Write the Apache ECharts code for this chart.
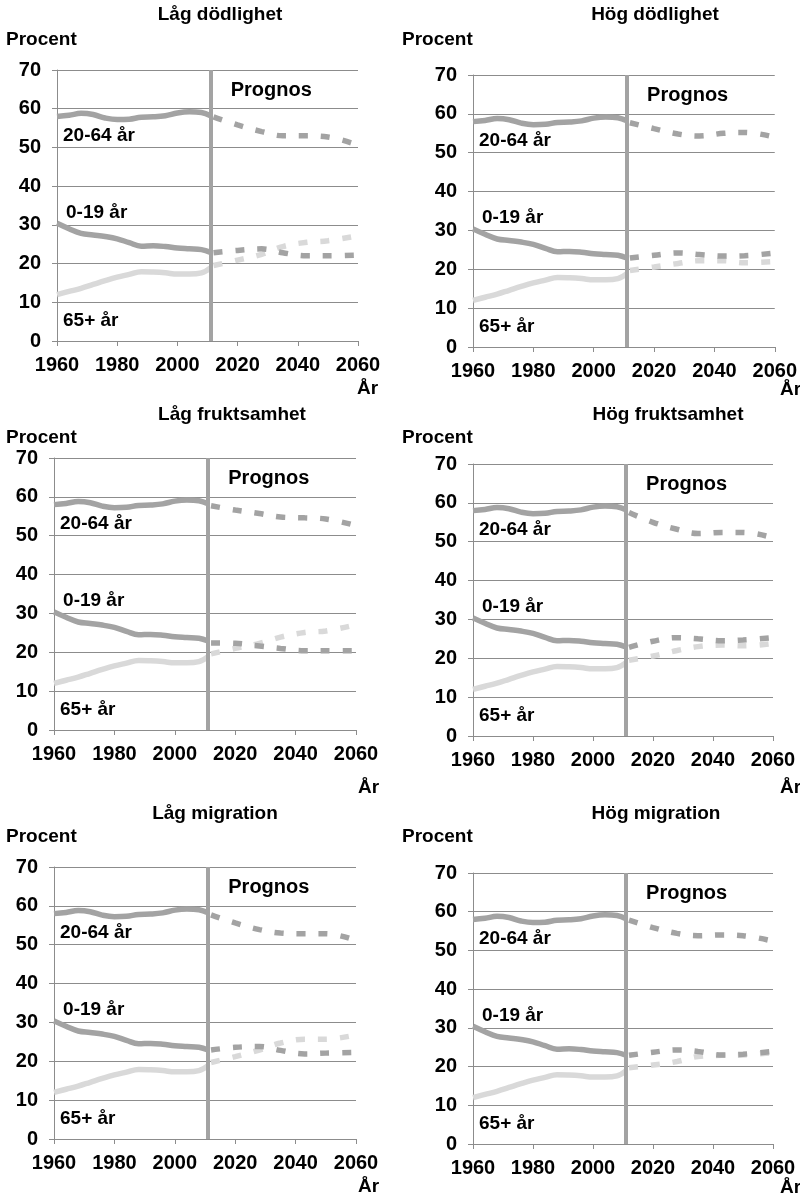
<!DOCTYPE html>
<html>
<head>
<meta charset="utf-8">
<script src="https://cdn.jsdelivr.net/npm/echarts@6/dist/echarts.min.js"></script>
<style>
  html, body { margin: 0; padding: 0; background: #fff; }
  #chart { width: 800px; height: 1200px; }
</style>
</head>
<body>
<div id="chart"></div>
<script>
// historical part, same in all six panels
const histYears = [1960, 1964, 1968, 1972, 1976, 1980, 1984, 1988, 1992, 1996, 2000, 2004, 2008, 2011];
const hist2064 = [58.0, 58.3, 58.8, 58.5, 57.6, 57.2, 57.3, 57.8, 57.9, 58.2, 58.9, 59.2, 59.0, 58.2];
const hist019 = [30.4, 29.0, 27.8, 27.4, 27.0, 26.4, 25.4, 24.5, 24.6, 24.4, 24.0, 23.8, 23.6, 22.9];
const hist65 = [12.0, 12.8, 13.6, 14.6, 15.6, 16.5, 17.2, 17.9, 17.8, 17.6, 17.3, 17.3, 17.6, 18.9];

// prognos
const fcYears = [2012, 2020, 2028, 2035, 2043, 2050, 2060];

const lagDod2064 = [57.9, 55.8, 54.1, 53.0, 53.0, 52.7, 50.6];
const lagDod019 = [22.8, 23.4, 23.8, 22.8, 22.0, 22.0, 22.2];
const lagDod65 = [19.5, 20.9, 22.4, 24.4, 25.5, 25.9, 27.2];

const hogDod2064 = [57.7, 56.2, 54.8, 54.3, 55.0, 55.2, 54.0];
const hogDod019 = [22.9, 23.6, 24.2, 23.8, 23.4, 23.5, 24.2];
const hogDod65 = [19.7, 20.6, 21.5, 22.2, 22.2, 21.7, 22.0];

const lagFrukt2064 = [57.7, 56.6, 55.7, 54.8, 54.6, 54.3, 52.6];
const lagFrukt019 = [22.4, 22.3, 21.6, 21.0, 20.4, 20.4, 20.4];
const lagFrukt65 = [19.6, 21.0, 22.3, 23.9, 25.1, 25.5, 27.1];

const hogFrukt2064 = [57.5, 55.0, 53.2, 52.1, 52.4, 52.4, 51.0];
const hogFrukt019 = [22.8, 24.4, 25.3, 25.0, 24.5, 24.7, 25.3];
const hogFrukt65 = [19.5, 20.6, 22.0, 23.0, 23.4, 23.2, 23.8];

const lagMig2064 = [57.7, 55.6, 53.9, 53.0, 52.8, 52.8, 51.1];
const lagMig019 = [22.9, 23.6, 23.8, 22.8, 21.9, 22.1, 22.3];
const lagMig65 = [19.7, 21.2, 22.9, 24.7, 25.7, 25.7, 26.8];

const hogMig2064 = [57.8, 55.9, 54.4, 53.8, 54.0, 53.8, 52.4];
const hogMig019 = [22.9, 23.7, 24.3, 23.9, 23.0, 23.2, 23.9];
const hogMig65 = [19.7, 20.4, 21.3, 22.6, 22.9, 23.0, 23.6];

const titles = ['Låg dödlighet', 'Hög dödlighet', 'Låg fruktsamhet', 'Hög fruktsamhet', 'Låg migration', 'Hög migration'];
const forecasts = [
  [lagDod2064, lagDod019, lagDod65],
  [hogDod2064, hogDod019, hogDod65],
  [lagFrukt2064, lagFrukt019, lagFrukt65],
  [hogFrukt2064, hogFrukt019, hogFrukt65],
  [lagMig2064, lagMig019, lagMig65],
  [hogMig2064, hogMig019, hogMig65]
];
const xTicks = [1960, 2060, 20];
const yTicks = [0, 70, 10];
const prognosYear = 2011;

// pixel layout of each panel
const layouts = [
  {left: 57, top: 70, width: 301, height: 271, tx: 220, ty: 15, px: 6, py: 40, ax: 357, ay: 389},
  {left: 473, top: 75, width: 303, height: 272, tx: 655, ty: 15, px: 402, py: 40, ax: 780, ay: 390},
  {left: 54, top: 458, width: 302, height: 272, tx: 232, ty: 415, px: 6, py: 438, ax: 358, ay: 788},
  {left: 473, top: 464, width: 300, height: 272, tx: 668, ty: 415, px: 402, py: 438, ax: 780, ay: 788},
  {left: 54, top: 867, width: 302, height: 272, tx: 215, ty: 814, px: 6, py: 837, ax: 358, ay: 1187},
  {left: 473, top: 873, width: 300, height: 271, tx: 656, ty: 814, px: 402, py: 837, ax: 780, ay: 1188}
];

const FONT = "'Liberation Sans', Arial, sans-serif";
const dark = '#a3a3a3';
const light = '#d9d9d9';
const gridCol = '#8c8c8c';

const zip = (xs, ys) => xs.map((x, i) => [x, ys[i]]);

let grids = [], xAxes = [], yAxes = [], series = [], graphics = [];

layouts.forEach((l, i) => {
  grids.push({left: l.left, top: l.top, width: l.width, height: l.height, containLabel: false});
  xAxes.push({
    type: 'value', gridIndex: i, min: xTicks[0], max: xTicks[1], interval: xTicks[2],
    splitLine: {show: false},
    axisLine: {show: true, lineStyle: {color: gridCol, width: 1}},
    axisTick: {show: true, length: 5, lineStyle: {color: gridCol}},
    axisLabel: {color: '#000', fontSize: 20, fontWeight: 'bold', fontFamily: FONT, margin: 14,
      formatter: v => String(v)}
  });
  yAxes.push({
    type: 'value', gridIndex: i, min: yTicks[0], max: yTicks[1], interval: yTicks[2],
    splitLine: {show: true, lineStyle: {color: gridCol, width: 1}},
    axisLine: {show: true, lineStyle: {color: gridCol, width: 1}},
    axisTick: {show: true, length: 5, lineStyle: {color: gridCol}},
    axisLabel: {color: '#000', fontSize: 20, fontWeight: 'bold', fontFamily: FONT, margin: 16}
  });

  const f = forecasts[i];
  const base = {type: 'line', xAxisIndex: i, yAxisIndex: i, showSymbol: false, smooth: 0.4, silent: true, animation: false};

  // historical
  series.push(Object.assign({}, base, {
    name: '65+ år', data: zip(histYears, hist65), lineStyle: {color: light, width: 5.5}
  }));
  series.push(Object.assign({}, base, {
    name: '0-19 år', data: zip(histYears, hist019), lineStyle: {color: dark, width: 5.5}
  }));
  series.push(Object.assign({}, base, {
    name: '20-64 år', data: zip(histYears, hist2064), lineStyle: {color: dark, width: 5.5},
    markLine: {
      silent: true, symbol: 'none', label: {show: false},
      lineStyle: {color: dark, width: 4, type: 'solid'},
      data: [{xAxis: prognosYear}]
    },
    markPoint: {
      symbol: 'circle', symbolSize: 0,
      label: {show: true, position: 'right', distance: 0, color: '#000', fontSize: 19, fontWeight: 'bold', fontFamily: FONT, formatter: '{b}'},
      data: [
        {name: '20-64 år', coord: [1962, 53]},
        {name: '0-19 år', coord: [1963, 33.2]},
        {name: '65+ år', coord: [1962, 5.3]},
        {name: 'Prognos', coord: [2017.7, 64.6], label: {fontSize: 20}}
      ]
    }
  }));
  // prognos
  series.push(Object.assign({}, base, {
    name: '65+ år prognos', data: zip(fcYears, f[2]), lineStyle: {color: light, width: 5.5, type: [9, 13]}
  }));
  series.push(Object.assign({}, base, {
    name: '0-19 år prognos', data: zip(fcYears, f[1]), lineStyle: {color: dark, width: 5.5, type: [9, 13]}
  }));
  series.push(Object.assign({}, base, {
    name: '20-64 år prognos', data: zip(fcYears, f[0]), lineStyle: {color: dark, width: 5.5, type: [9, 13]}
  }));

  const txt = (x, y, text, align) => ({
    type: 'text', x: x, y: y, silent: true,
    style: {text: text, fill: '#000', font: 'bold 19px ' + FONT, textAlign: align, textVerticalAlign: 'middle'}
  });
  graphics.push(txt(l.tx, l.ty, titles[i], 'center'));
  graphics.push(txt(l.px, l.py, 'Procent', 'left'));
  graphics.push(txt(l.ax, l.ay, 'År', 'left'));
});

const option = {
  backgroundColor: '#fff',
  animation: false,
  grid: grids,
  xAxis: xAxes,
  yAxis: yAxes,
  series: series,
  graphic: graphics
};

let myChart = echarts.init(document.getElementById('chart'));
myChart.setOption(option);
</script>
</body>
</html>
